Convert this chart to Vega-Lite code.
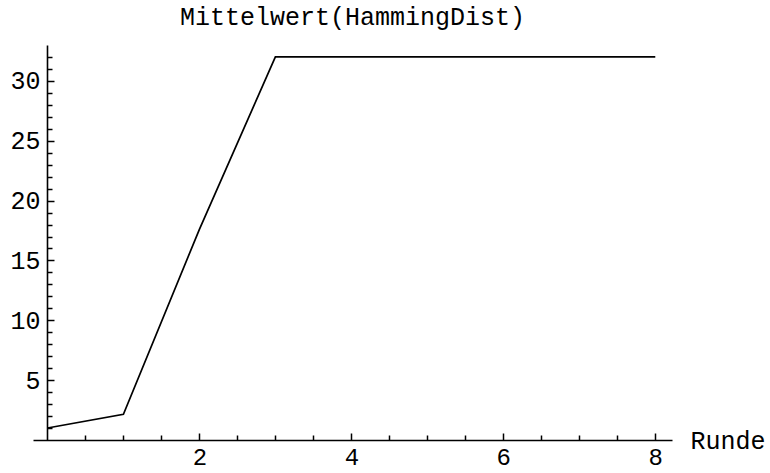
{
  "$schema": "https://vega.github.io/schema/vega-lite/v6.json",
  "width": 639,
  "height": 395,
  "autosize": "none",
  "padding": {"left": 33, "top": 45, "right": 98, "bottom": 33},
  "background": "white",
  "title": {
    "text": "Mittelwert(HammingDist)",
    "font": "Liberation Mono",
    "fontSize": 25,
    "fontWeight": "normal",
    "color": "black",
    "anchor": "middle",
    "baseline": "bottom",
    "offset": 14,
    "dy": 24
  },
  "data": {
    "values": [
      {"Runde": 0, "Mittelwert": 1.0},
      {"Runde": 1, "Mittelwert": 2.15},
      {"Runde": 2, "Mittelwert": 17.6},
      {"Runde": 3, "Mittelwert": 32},
      {"Runde": 4, "Mittelwert": 32},
      {"Runde": 5, "Mittelwert": 32},
      {"Runde": 6, "Mittelwert": 32},
      {"Runde": 7, "Mittelwert": 32},
      {"Runde": 8, "Mittelwert": 32}
    ]
  },
  "layer": [
    {
      "mark": {"type": "line", "color": "black", "strokeWidth": 1.7},
      "encoding": {
        "x": {
          "field": "Runde",
          "type": "quantitative",
          "scale": {"domain": [-0.19, 8.22], "nice": false, "zero": false},
          "axis": {
            "orient": "bottom",
            "values": [2, 4, 6, 8],
            "format": "d",
            "tickSize": -7,
            "tickWidth": 1.5,
            "tickColor": "black",
            "domainColor": "black",
            "domainWidth": 1.6,
            "labelFont": "Liberation Mono",
            "labelFontSize": 24,
            "labelFontWeight": "normal",
            "labelColor": "black",
            "labelPadding": 12,
            "labelFlush": false,
            "labelOverlap": false,
            "grid": false,
            "title": "Runde",
            "titleFont": "Liberation Mono",
            "titleFontSize": 25,
            "titleFontWeight": "normal",
            "titleColor": "black",
            "titleAlign": "left",
            "titleBaseline": "middle",
            "titleAngle": 0,
            "titleX": 657,
            "titleY": 0
          }
        },
        "y": {
          "field": "Mittelwert",
          "type": "quantitative",
          "scale": {"domain": [0, 33], "nice": false, "zero": false},
          "axis": {
            "orient": "left",
            "offset": -14,
            "values": [5, 10, 15, 20, 25, 30],
            "tickSize": -7,
            "tickWidth": 1.5,
            "tickColor": "black",
            "domainColor": "black",
            "domainWidth": 1.6,
            "labelFont": "Liberation Mono",
            "labelFontSize": 25,
            "labelFontWeight": "normal",
            "labelColor": "black",
            "labelPadding": 14,
            "labelFlush": false,
            "labelOverlap": false,
            "grid": false,
            "title": null
          }
        }
      }
    },
    {
      "mark": {"type": "line", "strokeOpacity": 0},
      "encoding": {
        "x": {
          "field": "Runde",
          "type": "quantitative",
          "axis": {
            "orient": "bottom",
            "values": [0.5, 1, 1.5, 2.5, 3, 3.5, 4.5, 5, 5.5, 6.5, 7, 7.5],
            "tickSize": -5,
            "tickWidth": 1.5,
            "tickColor": "black",
            "domain": false,
            "labels": false,
            "grid": false,
            "title": null
          }
        },
        "y": {
          "field": "Mittelwert",
          "type": "quantitative",
          "axis": {
            "orient": "left",
            "offset": -14,
            "values": [1, 2, 3, 4, 6, 7, 8, 9, 11, 12, 13, 14, 16, 17, 18, 19, 21, 22, 23, 24, 26, 27, 28, 29, 31, 32],
            "tickSize": -5,
            "tickWidth": 1.5,
            "tickColor": "black",
            "domain": false,
            "labels": false,
            "grid": false,
            "title": null
          }
        }
      }
    }
  ],
  "resolve": {"axis": {"x": "independent", "y": "independent"}},
  "config": {"view": {"stroke": null}}
}
